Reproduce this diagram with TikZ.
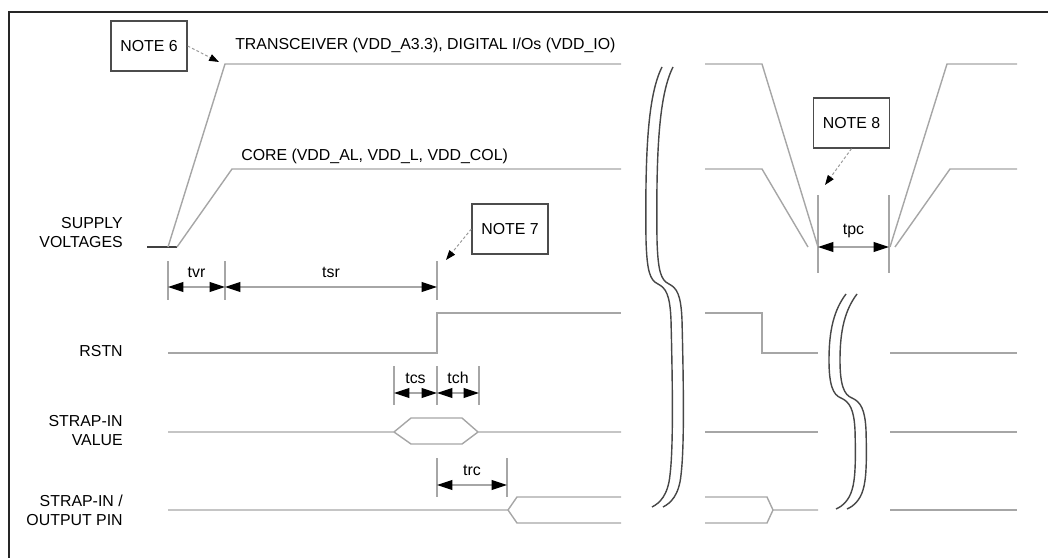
\documentclass[tikz,border=0pt]{standalone}
\usepackage{fontspec}
\setmainfont{Liberation Sans}
\usetikzlibrary{arrows.meta}

\begin{document}
\begin{tikzpicture}[x=0.025cm, y=-0.025cm,
    font=\fontsize{11.3pt}{13.5pt}\selectfont,
    sig/.style={draw=black!35, line width=1pt},
    tick/.style={draw=black!35, line width=0.8pt},
    dim/.style={draw=black!35, line width=0.8pt,
      {Triangle[length=11pt,width=7pt,color=black]}-{Triangle[length=11pt,width=7pt,color=black]}},
    tlab/.style={above=1mm},
    note/.style={draw=black!70, line width=0.9pt, minimum width=1.9cm, minimum height=1.25cm},
    callout/.style={draw=black!40, line width=0.7pt, dash pattern=on 2pt off 1.5pt,
      -{Triangle[length=7pt,width=5pt,color=black]}},
    brk/.style={draw=black!72, line width=1pt},
    lbl/.style={anchor=east, align=right, inner sep=0pt}]
    \useasboundingbox (0,0) rectangle (1048,558);

    % frame
    \draw[black!85, line width=1.4pt] (1048,12) -- (9,12) -- (9,558);

    % signal names
    \node[lbl] (supply) at (123,233) {SUPPLY\\VOLTAGES};
    \node[lbl] (rstn) at (123,351) {RSTN};
    \node[lbl] (strapval) at (123,431) {STRAP-IN\\VALUE};
    \node[lbl] (strappin) at (123,510) {STRAP-IN /\\OUTPUT PIN};
    \node[anchor=base west, inner sep=0pt] (xcvr) at (235,50) {TRANSCEIVER (VDD\_A3.3), DIGITAL I/Os (VDD\_IO)};
    \node[anchor=base west, inner sep=0pt] (core) at (241,160.5) {CORE (VDD\_AL, VDD\_L, VDD\_COL)};

    % supply voltages
    \draw[black!75, line width=1.5pt] (147,247) -- (177,247);
    \draw[sig] (168,247) -- (225,64) -- (621,64);
    \draw[sig] (177,247) -- (232,169) -- (621,169);
    \draw[sig] (705,64) -- (762,64) -- (818,247);
    \draw[sig] (705,169) -- (762,169) -- (808,247);
    \draw[sig] (890,247) -- (947,64) -- (1017,64);
    \draw[sig] (895,247) -- (950,169) -- (1017,169);

    % rstn
    \draw[sig] (168,353) -- (437,353) -- (437,313) -- (621,313);
    \draw[sig] (705,313) -- (762,313) -- (762,353) -- (818,353);
    \draw[sig] (890,353) -- (1017,353);

    % strap-in value
    \draw[sig] (168,432) -- (394,432) -- (411,418) -- (462,418) -- (478,432) -- (621,432);
    \draw[sig] (394,432) -- (411,444) -- (462,444) -- (478,432);
    \draw[sig] (705,432) -- (818,432);
    \draw[sig] (890,432) -- (1017,432);

    % strap-in / output pin
    \draw[sig] (168,510) -- (508,510) -- (517,497) -- (621,497);
    \draw[sig] (508,510) -- (517,523) -- (621,523);
    \draw[sig] (705,497) -- (767,497) -- (773,510) -- (818,510);
    \draw[sig] (705,523) -- (767,523) -- (773,510);
    \draw[sig] (890,510) -- (1017,510);

    % ticks
    \foreach \x in {168,225,437} \draw[tick] (\x,261) -- (\x,300);
    \foreach \x in {394,437,479} \draw[tick] (\x,366) -- (\x,405);
    \foreach \x in {437,507} \draw[tick] (\x,458) -- (\x,497);
    \foreach \x in {818,889} \draw[tick] (\x,195) -- (\x,273);

    % timing arrows
    \coordinate (tvrA) at (168,287);
    \coordinate (tvrB) at (225,287);
    \coordinate (tsrB) at (437,287);
    \coordinate (tcsA) at (394,393);
    \coordinate (tcsB) at (437,393);
    \coordinate (tchB) at (479,393);
    \coordinate (trcA) at (437,485);
    \coordinate (trcB) at (507,485);
    \coordinate (tpcA) at (818,247);
    \coordinate (tpcB) at (889,247);
    \draw[dim] (tvrA) -- node[tlab] {tvr} (tvrB);
    \draw[dim] (tvrB) -- node[tlab] {tsr} (tsrB);
    \draw[dim] (tcsA) -- node[tlab] {tcs} (tcsB);
    \draw[dim] (tcsB) -- node[tlab] {tch} (tchB);
    \draw[dim] (trcA) -- node[tlab] {trc} (trcB);
    \draw[dim] (tpcA) -- node[tlab] {tpc} (tpcB);

    % notes
    \node[note] (note6) at (149,46) {NOTE 6};
    \node[note] (note7) at (510,229) {NOTE 7};
    \node[note] (note8) at (851.5,123) {NOTE 8};
    \coordinate (tip6) at (219,62);
    \coordinate (tip7) at (446,260);
    \coordinate (tip8) at (825,185);
    \draw[callout] (note6.east) -- (tip6);
    \draw[callout] (note7.west) -- (tip7);
    \draw[callout] (note8.south) -- (tip8);

    % time breaks
    \foreach \dx in {0,11} {
      \draw[brk, xshift=\dx*0.025cm] (662,67) .. controls (648,95) and (645,150) .. (646,240)
        .. controls (647,272) and (650,280) .. (658,284)
        .. controls (666,288) and (670,295) .. (671,320)
        .. controls (673,400) and (673,450) .. (670,475)
        .. controls (668,495) and (660,503) .. (652,507);
      \draw[brk, xshift=\dx*0.025cm] (846,294) .. controls (834,310) and (829,330) .. (829,360)
        .. controls (829,385) and (833,395) .. (841,398)
        .. controls (850,402) and (854,410) .. (855,430)
        .. controls (856,465) and (855,480) .. (852,490)
        .. controls (849,500) and (843,506) .. (836,509);
    }
\end{tikzpicture}
\end{document}
